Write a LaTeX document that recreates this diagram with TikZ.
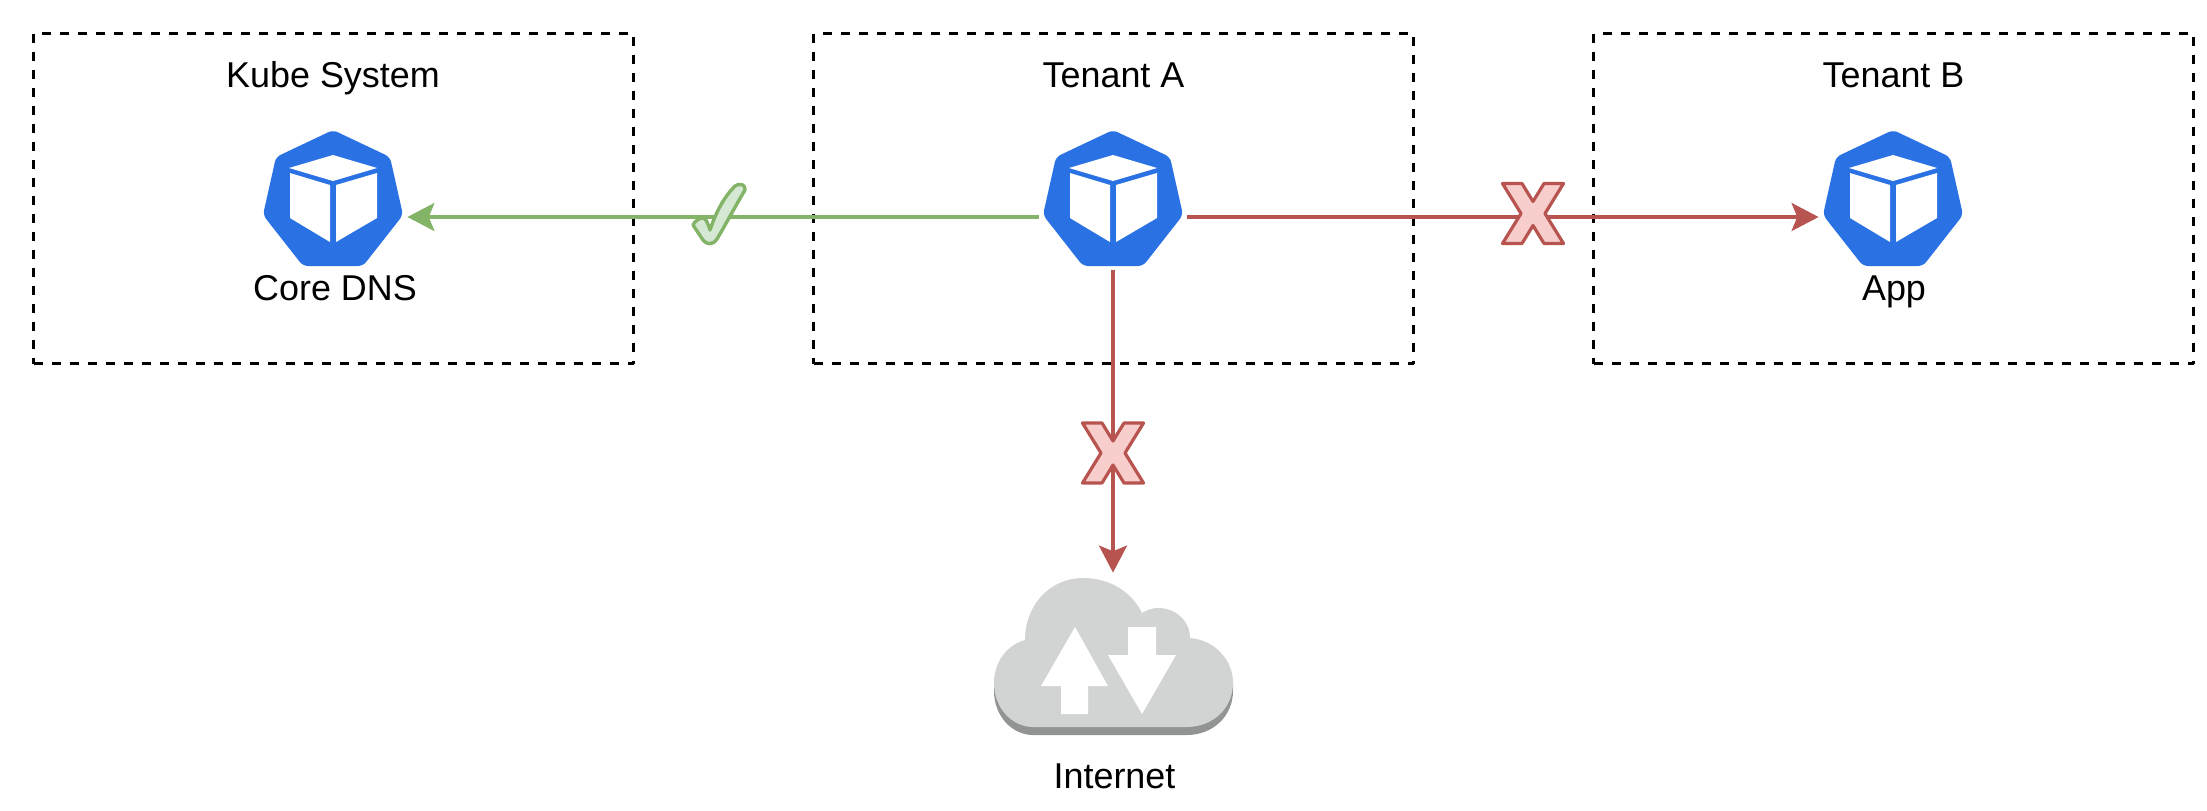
\documentclass[tikz,border=0pt]{standalone}
\usepackage{fontspec}
\setmainfont{Liberation Sans}
\usetikzlibrary{arrows.meta}

\definecolor{okgreen}{HTML}{82B366}
\definecolor{okfill}{HTML}{D5E8D4}
\definecolor{nored}{HTML}{B85450}
\definecolor{nofill}{HTML}{F8CECC}
\definecolor{kubeblue}{HTML}{2A72E3}
\definecolor{cloudlight}{HTML}{D2D3D3}
\definecolor{clouddark}{HTML}{929393}

\tikzset{
  tenantbox/.style={draw=black, line width=1.5pt, dash pattern=on 4.5pt off 4.5pt, minimum width=300pt, minimum height=165pt, inner sep=0pt},
  iconbox/.style={minimum width=74pt, minimum height=53pt, inner sep=0pt},
  lbl/.style={font=\fontsize{17.95}{21}\selectfont, anchor=base, inner sep=0pt},
  okline/.style={draw=okgreen, line width=1.6pt, -{Stealth[length=13.5pt,width=14pt,inset=2.8pt]}},
  noline/.style={draw=nored, line width=1.6pt, -{Stealth[length=13.5pt,width=14pt,inset=2.8pt]}},
}

\begin{document}
\begin{tikzpicture}[x=0.5pt, y=-0.5pt, line join=round]
  \useasboundingbox (0,0) rectangle (2207,810);

  % dashed areas
  \node[tenantbox] (kubesys) at (333.5,198.5) {};
  \node[tenantbox] (tenantabox) at (1113.5,198.5) {};
  \node[tenantbox] (tenantbbox) at (1893.5,198.5) {};

  % area titles
  \node[lbl] (kubelabel) at (333,87) {Kube System};
  \node[lbl] (tenantalabel) at (1113.5,87) {Tenant A};
  \node[lbl] (tenantblabel) at (1893.5,87) {Tenant B};

  % the three icons
  \foreach \name/\x in {coredns/333, tenanta/1113, tenantb/1893} {
    \node[iconbox] (\name) at (\x,217) {};
    \begin{scope}[shift={(\x,217)}]
      \fill[kubeblue, rounded corners=2.5pt] (0,-87) -- (57,-60) -- (70,-2) -- (30,49) -- (-30,49) -- (-70,-2) -- (-57,-60) -- cycle;
      \fill[white] (0,-62) -- (44,-49) -- (0,-36) -- (-44,-49) -- cycle;   % top
      \fill[white] (-43,-44) -- (-3,-32) -- (-3,25) -- (-43,1) -- cycle;   % left
      \fill[white] (3,-32) -- (44,-44) -- (44,1) -- (3,25) -- cycle;       % right
    \end{scope}
  }
  \node[lbl] (dnslabel) at (335,300) {Core DNS};
  \node[lbl] (applabel) at (1894,300) {App};

  % cloud
  \node[minimum width=240pt, minimum height=77pt, inner sep=0pt] (internet) at (1113,650) {};
  \fill[clouddark] (994,683) -- (994,691) .. controls (994,716) and (1012,735) .. (1033,735) -- (1187,735) .. controls (1213,735) and (1233,716) .. (1233,691) -- (1233,683) -- cycle;
  \fill[cloudlight] (1025,640) .. controls (1025,605) and (1050,578) .. (1083,578)
    .. controls (1110,578) and (1132,592) .. (1142,613)
    .. controls (1147,610) and (1152,608) .. (1158,608)
    .. controls (1176,608) and (1190,621) .. (1190,638)
    .. controls (1215,640) and (1233,660) .. (1233,683)
    .. controls (1233,708) and (1213,727) .. (1187,727)
    -- (1033,727)
    .. controls (1012,727) and (994,708) .. (994,683)
    .. controls (994,662) and (1007,645) .. (1025,640) -- cycle;
  \fill[white] (1075,627) -- (1108,686) -- (1088,686) -- (1088,714) -- (1061,714) -- (1061,686) -- (1041,686) -- cycle;
  \fill[white] (1128,627) -- (1156,627) -- (1156,655) -- (1176,655) -- (1142,714) -- (1108,655) -- (1128,655) -- cycle;
  \node[lbl] (internetlabel) at (1114.5,788) {Internet};

  % connectors
  \draw[okline] (tenanta.west) -- (coredns.east);
  \draw[noline] (tenanta.east) -- (tenantb.west);
  \draw[noline] (tenanta.south) -- (internet.north);

  % check mark on the green line
  \draw[okgreen, fill=okfill, line width=1.7pt] (693,225) .. controls (695,221) and (699,218) .. (703,218)
    .. controls (706,218) and (708,224) .. (710,230)
    .. controls (716,212) and (724,197) .. (735,186)
    .. controls (739,183) and (746,184) .. (745,190)
    .. controls (736,205) and (727,222) .. (717,239)
    .. controls (714,245) and (706,245) .. (703,240) -- cycle;

  % crosses on the red lines
  \foreach \x/\y in {1533/213.5, 1113/453} {
    \draw[nored, fill=nofill, line width=1.6pt, shift={(\x,\y)}] (-30.5,-30) -- (-11,-30) -- (0,-12) -- (11,-30) -- (30.5,-30) -- (12,0)
      -- (30.5,30) -- (11,30) -- (0,12) -- (-11,30) -- (-30.5,30) -- (-12,0) -- cycle;
  }
\end{tikzpicture}
\end{document}
